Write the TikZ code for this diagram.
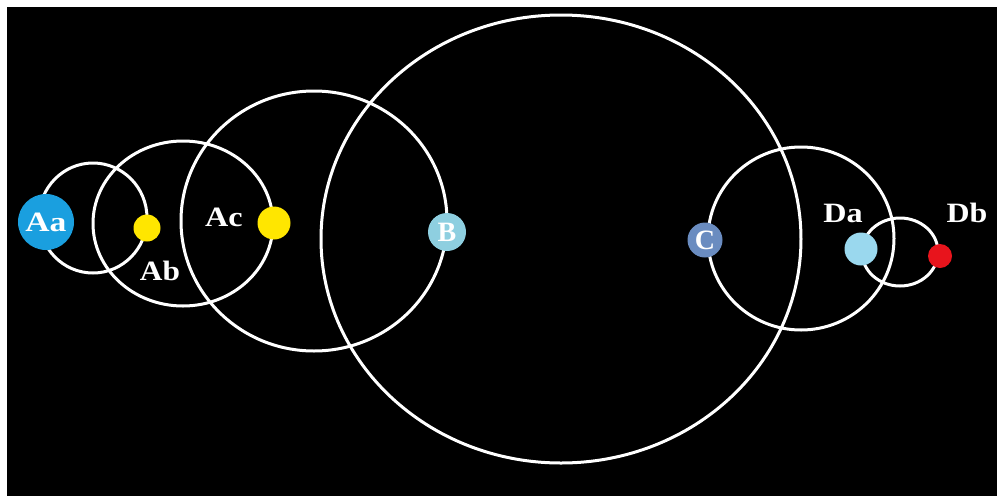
\documentclass[tikz,border=0pt]{standalone}
\usepackage{fontspec}
\setmainfont{Liberation Serif}
\definecolor{cAa}{HTML}{1A9FDF}
\definecolor{cYel}{HTML}{FFE600}
\definecolor{cB}{HTML}{8ECFE0}
\definecolor{cC}{HTML}{6A8CC0}
\definecolor{cDa}{HTML}{9AD8EE}
\definecolor{cDb}{HTML}{E8141C}
\newcommand{\wide}[2][1.15]{\scalebox{#1}[1]{#2}}
\begin{document}
\begin{tikzpicture}[x=1pt,y=-1pt,
  orbit/.style={draw=white,line width=3pt},
  body/.style={circle,inner sep=0pt,text=white,font=\bfseries\fontsize{28}{28}\selectfont},
  lbl/.style={text=white,font=\bfseries\fontsize{28}{28}\selectfont,inner sep=0pt}]
\useasboundingbox (0,0) rectangle (997,496);
\fill[white] (0,0) rectangle (997,496);
\fill[black] (7,7) rectangle (997,496);
% orbits
\draw[orbit] (93,218) ellipse [x radius=54pt, y radius=55pt];
\draw[orbit] (183,223.5) ellipse [x radius=90pt, y radius=82.5pt];
\draw[orbit] (314,221) ellipse [x radius=133pt, y radius=130pt];
\draw[orbit] (561,239) ellipse [x radius=240pt, y radius=224pt];
\draw[orbit] (801,238.5) ellipse [x radius=93pt, y radius=91.5pt];
\draw[orbit] (900,252) ellipse [x radius=38pt, y radius=34pt];
% bodies
\node[body,fill=cAa,minimum size=56pt] (Aa) at (46,222) {\wide[1.2]{Aa}};
\node[body,fill=cYel,minimum size=27pt] (Ab) at (147,228) {};
\node[body,fill=cYel,minimum size=33pt] (Ac) at (274,223) {};
\node[body,fill=cB,minimum size=38pt] (B) at (447,232) {B};
\node[body,fill=cC,minimum size=35pt] (C) at (705,240) {C};
\node[body,fill=cDa,minimum size=33pt] (Da) at (861,249) {};
\node[body,fill=cDb,minimum size=24pt] (Db) at (940,256) {};
% labels
\node[lbl] (lAb) at (160,271) {\wide[1.12]{Ab}};
\node[lbl] (lAc) at (224,217) {\wide[1.15]{Ac}};
\node[lbl] (lDa) at (843,213) {\wide[1.15]{Da}};
\node[lbl] (lDb) at (967,213) {\wide[1.14]{Db}};
\end{tikzpicture}
\end{document}
